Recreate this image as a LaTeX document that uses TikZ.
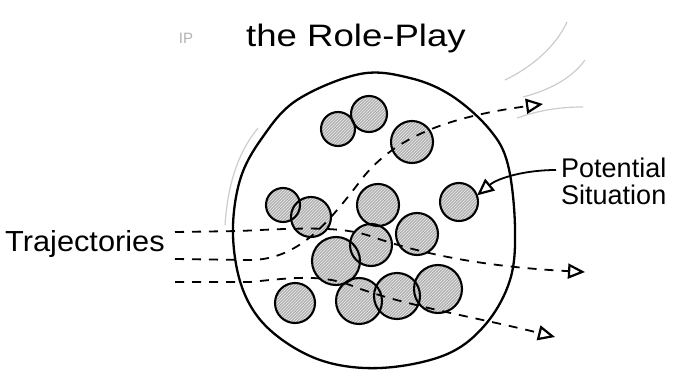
\documentclass[tikz,border=0pt]{standalone}
\usepackage{fontspec}
\setmainfont{Liberation Sans}
\usetikzlibrary{arrows.meta,patterns}
\begin{document}
\begin{tikzpicture}[x=1pt,y=-1pt,
  sitfill/.style={circle, inner sep=0pt, fill=gray!60,
    postaction={pattern=north east lines, pattern color=white!85!gray}},
  sitline/.style={circle, inner sep=0pt, draw=black, line width=2.1pt},
  tip/.style={-{Triangle[open, length=17pt, width=15pt, line width=2.2pt]}},
  traj/.style={draw=black, line width=1.8pt, dash pattern=on 9pt off 8pt, tip},
  lbl/.style={inner sep=0pt},
  pencil/.style={draw=gray!40, line width=1.2pt}]
\useasboundingbox (0,0) rectangle (682,377);

% faint pencil marks
\node[inner sep=0pt, text=gray!60, font=\fontsize{15}{16}\selectfont] (ip) at (186,38) {IP};
\draw[pencil] (505,80) .. controls (530,68) and (555,48) .. (567,22);
\draw[pencil] (523,97) .. controls (550,90) and (572,78) .. (585,60);
\draw[pencil] (517,118) .. controls (540,110) and (560,107) .. (583,107);
\draw[pencil] (258,128) .. controls (240,150) and (228,180) .. (225,225);

% title
\node[lbl, xscale=1.18, font=\fontsize{31}{33}\selectfont] (title) at (356,38) {the Role-Play};

% big circle
\draw[line width=2.3pt] plot[smooth cycle, tension=0.6] coordinates {
  (360,74) (410,78) (452,96) (490,130) (508,165) (515,228) (510,280)
  (485,325) (445,355) (380,368) (320,360) (270,330) (243,290) (233,235)
  (240,180) (262,138) (297,100)};

% situations: fills
\foreach \n/\x/\y/\r in {1/338/129/17, 2/369/114/18, 3/412/142/21, 4/283/205/17,
  5/311/217/20, 6/378/205/21, 7/459/202/19, 8/417/234/21, 9/371/245/21,
  10/336/261/24, 11/295/303/20, 12/359/301/23, 13/397/296/23, 14/438/289/24}
  {\node[sitfill, minimum size=2*\r pt] (s\n) at (\x,\y) {};}
% situations: outlines
\foreach \n/\r in {1/17, 2/18, 3/21, 4/17, 5/20, 6/21, 7/19, 8/21, 9/21,
  10/24, 11/20, 12/23, 13/23, 14/24}
  {\node[sitline, minimum size=2*\r pt] at (s\n) {};}

% trajectories
\coordinate (a0) at (175,232);
\coordinate (a1) at (585,272);
\coordinate (b0) at (175,259);
\coordinate (b1) at (543,104);
\coordinate (c0) at (175,282);
\coordinate (c1) at (555,337);

\draw[traj] (a0) -- (240,231) .. controls (300,228) and (340,226) .. (370,236)
  .. controls (410,250) and (470,266) .. (a1);
\draw[traj] (b0) -- (245,260) .. controls (300,262) and (330,220) .. (365,175)
  .. controls (395,140) and (440,118) .. (b1);
\draw[traj] (c0) -- (250,282) .. controls (290,278) and (320,274) .. (350,285)
  .. controls (400,305) and (480,318) .. (c1);

% labels
\node[lbl, anchor=west, xscale=1.06, font=\fontsize{29}{31}\selectfont] (traj) at (5,244) {Trajectories};
\node[lbl, align=left, anchor=west, font=\fontsize{27}{27}\selectfont] (ps) at (561,181) {Potential\\Situation};

\coordinate (psa) at (556,170);
\draw[line width=1.8pt, tip] (psa) .. controls (525,170) and (498,178) .. (s7.20);
\end{tikzpicture}
\end{document}
